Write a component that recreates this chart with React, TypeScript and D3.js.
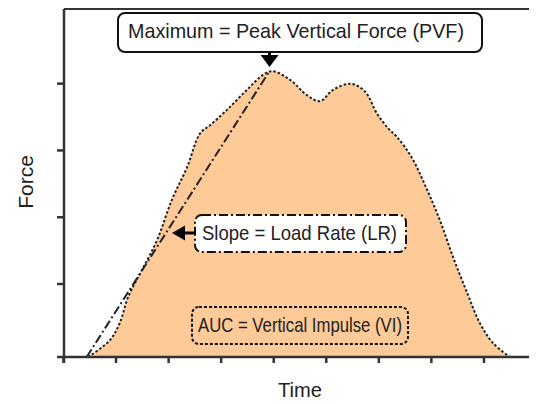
import React, { useEffect, useRef } from 'react';
import * as d3 from 'd3';

// force trace (time units, force units)
const timeValues = [0.48, 0.89, 1.08, 1.24, 1.5, 1.79, 2.07, 2.36, 2.61, 2.8, 3.12, 3.5, 3.8, 3.98, 4.32, 4.64, 4.89, 5.14, 5.48, 5.75, 5.97, 6.18, 6.36, 6.64, 6.93, 7.17, 7.42, 7.69, 7.93, 8.18, 8.5];
const forceValues = [0, 0.25, 0.51, 0.9, 1.3, 1.75, 2.35, 2.84, 3.35, 3.47, 3.7, 4.0, 4.22, 4.28, 4.15, 3.92, 3.83, 4.0, 4.09, 3.97, 3.65, 3.43, 3.29, 2.98, 2.5, 2.05, 1.5, 0.96, 0.51, 0.21, 0];

// load-rate slope line: start and end
const slopeTime = [0.45, 3.93];
const slopeForce = [0, 4.28];

const xTicks = [0, 1, 2, 3, 4, 5, 6, 7, 8];
const yTicks = [1.1, 2.1, 3.1, 4.1];

const labels = {
  peak: 'Maximum = Peak Vertical Force (PVF)',
  slope: 'Slope = Load Rate (LR)',
  auc: 'AUC = Vertical Impulse (VI)',
  x: 'Time',
  y: 'Force',
};

const App = () => {
  const ref = useRef<SVGSVGElement>(null);

  useEffect(() => {
    const width = 537;
    const height = 404;
    const margin = { top: 9, left: 64, bottom: 47, right: 2 };

    const svg = d3.select(ref.current);
    svg.selectAll('*').remove();
    svg.attr('width', width).attr('height', height);

    const x = d3.scaleLinear().domain([0, 9]).range([margin.left - 1, width - margin.right + 1]);
    const y = d3.scaleLinear().domain([0, 5.21]).range([height - margin.bottom, margin.top]);

    const font = "'Liberation Sans', Arial, sans-serif";
    const ink = '#222';

    const data = timeValues.map((t, i) => ({ t, f: forceValues[i] }));

    const area = d3.area<{ t: number; f: number }>()
      .x(d => x(d.t))
      .y0(y(0))
      .y1(d => y(d.f))
      .curve(d3.curveCatmullRom.alpha(0.5));

    const line = d3.line<{ t: number; f: number }>()
      .x(d => x(d.t))
      .y(d => y(d.f))
      .curve(d3.curveCatmullRom.alpha(0.5));

    svg.append('path')
      .attr('d', area(data))
      .attr('fill', '#fdca98');

    svg.append('path')
      .attr('d', line(data))
      .attr('fill', 'none')
      .attr('stroke', ink)
      .attr('stroke-width', 2)
      .attr('stroke-dasharray', '2.5,2');

    const slope = slopeTime.map((t, i) => ({ t, f: slopeForce[i] }));
    svg.append('path')
      .attr('d', d3.line<{ t: number; f: number }>().x(d => x(d.t)).y(d => y(d.f))(slope))
      .attr('fill', 'none')
      .attr('stroke', ink)
      .attr('stroke-width', 2)
      .attr('stroke-dasharray', '9,3,2,3');

    // frame: top and right border
    const x0 = x(0) + 1;
    const x1 = width - 2;
    const yTop = y.range()[1];
    const yBot = y.range()[0];
    svg.append('path')
      .attr('d', `M${x0},${yTop}H${x1}V${yBot}`)
      .attr('fill', 'none')
      .attr('stroke', '#333')
      .attr('stroke-width', 2);

    // axes
    const xAxis = svg.append('g')
      .attr('transform', `translate(0,${yBot})`)
      .call(d3.axisBottom(x).tickValues(xTicks).tickSize(6).tickFormat(() => ''));
    xAxis.select('.domain').attr('d', `M${x0 - 7},0H${x1}`);

    const yAxis = svg.append('g')
      .attr('transform', `translate(${x0},0)`)
      .call(d3.axisLeft(y).tickValues(yTicks).tickSize(7).tickFormat(() => ''));
    yAxis.select('.domain').attr('d', `M0,${yTop}V${yBot + 6}`);

    [xAxis, yAxis].forEach(g => {
      g.selectAll('path, line').attr('stroke', '#333').attr('stroke-width', 2.5);
    });

    // axis titles
    svg.append('text')
      .attr('x', 278)
      .attr('y', 397)
      .attr('textLength', 44)
      .attr('lengthAdjust', 'spacingAndGlyphs')
      .style('font-family', font)
      .style('font-size', '21px')
      .attr('fill', ink)
      .text(labels.x);

    svg.append('text')
      .attr('transform', `translate(33,182) rotate(-90)`)
      .attr('text-anchor', 'middle')
      .style('font-family', font)
      .style('font-size', '21px')
      .attr('fill', ink)
      .text(labels.y);

    // annotation boxes
    const box = (bx: number, by: number, bw: number, bh: number, dash: string | null, fill: string) => {
      svg.append('rect')
        .attr('x', bx).attr('y', by)
        .attr('width', bw).attr('height', bh)
        .attr('rx', 7).attr('ry', 7)
        .attr('fill', fill)
        .attr('stroke', '#111')
        .attr('stroke-width', 2)
        .attr('stroke-dasharray', dash);
    };
    const boxText = (tx: number, ty: number, txt: string, len: number) => {
      svg.append('text')
        .attr('x', tx).attr('y', ty)
        .attr('textLength', len)
        .attr('lengthAdjust', 'spacingAndGlyphs')
        .style('font-family', font)
        .style('font-size', '21px')
        .attr('fill', ink)
        .text(txt);
    };

    // peak
    const peakX = x(slopeTime[1]);
    box(118, 13, 364, 39, null, '#fff');
    boxText(128, 38, labels.peak, 336);
    svg.append('line')
      .attr('x1', peakX).attr('x2', peakX)
      .attr('y1', 52).attr('y2', 56)
      .attr('stroke', '#000').attr('stroke-width', 3);
    svg.append('path')
      .attr('d', `M${peakX - 9},55L${peakX + 9},55L${peakX},67Z`)
      .attr('fill', '#000');

    // slope
    box(195, 215, 211, 37, '9,3,2,3', '#fff');
    boxText(202, 240, labels.slope, 195);
    svg.append('line')
      .attr('x1', 183).attr('x2', 195)
      .attr('y1', 233).attr('y2', 233)
      .attr('stroke', '#000').attr('stroke-width', 3);
    svg.append('path')
      .attr('d', 'M185,225.5L185,240.5L172,233Z')
      .attr('fill', '#000');

    // area under curve
    box(192, 307, 216, 37, '3,2', 'none');
    boxText(198, 332, labels.auc, 204);
  }, []);

  return (
    <div style={{ margin: -8 }}>
      <svg ref={ref}></svg>
    </div>
  );
};

export default App;
